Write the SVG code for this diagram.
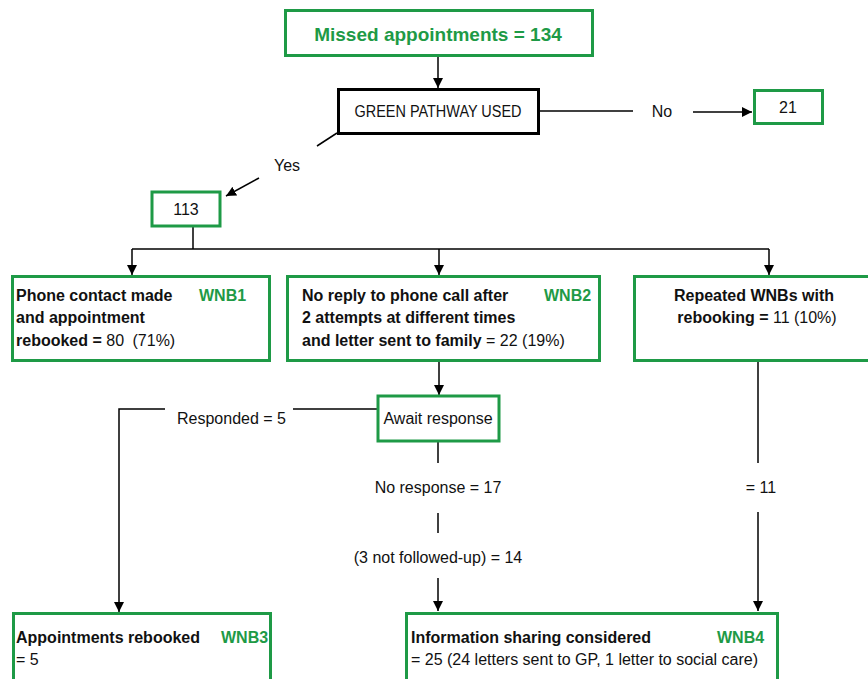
<svg xmlns="http://www.w3.org/2000/svg" width="868" height="679" viewBox="0 0 868 679">
<defs>
<marker id="ah" viewBox="0 0 10 10" refX="10" refY="5" markerWidth="10" markerHeight="10" orient="auto" markerUnits="userSpaceOnUse">
<path d="M0,0 L10,5 L0,10 Z" fill="#000"/>
</marker>
<style>
.gbox{fill:#fff;stroke:#1e9a46;stroke-width:3}
.kbox{fill:#fff;stroke:#000;stroke-width:3}
.t{font-family:"Liberation Sans",Arial,sans-serif;font-size:16px;fill:#111}
.b{font-weight:bold}
.g{fill:#1e9a46;font-weight:bold}
.c{text-anchor:middle}
.ln{fill:none;stroke:#000;stroke-width:1.5}
.ar{marker-end:url(#ah)}
</style>
</defs>
<rect width="868" height="679" fill="#fff"/>
<g id="connectors">
<line class="ln ar" x1="438" y1="56" x2="438" y2="88"/>
<line class="ln" x1="539" y1="111" x2="633" y2="111"/>
<line class="ln ar" x1="693" y1="112" x2="752" y2="112"/>
<line class="ln" x1="337" y1="133" x2="317" y2="146"/>
<line class="ln ar" x1="259" y1="178" x2="226" y2="196"/>
<line class="ln" x1="193" y1="227" x2="193" y2="249"/>
<line class="ln" x1="132" y1="249" x2="769" y2="249"/>
<line class="ln ar" x1="132" y1="249" x2="132" y2="275"/>
<line class="ln ar" x1="439" y1="249" x2="439" y2="275"/>
<line class="ln ar" x1="769" y1="249" x2="769" y2="275"/>
<line class="ln ar" x1="439" y1="361" x2="439" y2="395"/>
<line class="ln" x1="377" y1="409" x2="293" y2="409"/>
<polyline class="ln ar" points="165,409 119,409 119,612"/>
<line class="ln" x1="438" y1="442" x2="438" y2="463"/>
<line class="ln" x1="438" y1="513" x2="438" y2="533"/>
<line class="ln ar" x1="438" y1="578" x2="438" y2="611"/>
<line class="ln" x1="758" y1="361" x2="758" y2="463"/>
<line class="ln ar" x1="758" y1="512" x2="758" y2="611"/>
<text class="t c" x="662" y="117">No</text>
<text class="t c" x="287" y="171">Yes</text>
<text class="t" x="177" y="424">Responded = 5</text>
<text class="t c" x="438" y="493">No response = 17</text>
<text class="t c" x="438" y="563">(3 not followed-up) = 14</text>
<text class="t c" x="761" y="493">= 11</text>
</g>
<g id="missed">
<rect class="gbox" x="285.5" y="10.5" width="307" height="45"/>
<text class="t g c" x="438" y="41" style="font-size:19px">Missed appointments = 134</text>
</g>
<g id="green-pathway">
<rect class="kbox" x="338.5" y="89.5" width="200" height="44"/>
<text class="t c" x="438" y="117" textLength="167" lengthAdjust="spacingAndGlyphs">GREEN PATHWAY USED</text>
</g>
<g id="no21">
<rect class="gbox" x="754.5" y="90.5" width="68" height="33"/>
<text class="t c" x="788" y="113">21</text>
</g>
<g id="yes113">
<rect class="gbox" x="152" y="192" width="68" height="34"/>
<text class="t c" x="186" y="215">113</text>
</g>
<g id="wnb1">
<rect class="gbox" x="12.5" y="276.5" width="257" height="84"/>
<text class="t b" x="16" y="301">Phone contact made</text>
<text class="t g" x="199" y="301">WNB1</text>
<text class="t b" x="16" y="323">and appointment</text>
<text class="t" x="16" y="346"><tspan class="b">rebooked =</tspan> 80 <tspan dx="4">(71%)</tspan></text>
</g>
<g id="wnb2">
<rect class="gbox" x="287.5" y="276.5" width="312" height="84"/>
<text class="t b" x="302" y="301">No reply to phone call after</text>
<text class="t g" x="544" y="301">WNB2</text>
<text class="t b" x="302" y="323">2 attempts at different times</text>
<text class="t" x="302" y="346"><tspan class="b">and letter sent to family</tspan> = 22 (19%)</text>
</g>
<g id="repeated">
<rect class="gbox" x="634.5" y="276.5" width="250" height="84"/>
<text class="t b c" x="754" y="301">Repeated WNBs with</text>
<text class="t c" x="757" y="323"><tspan class="b">rebooking =</tspan> 11 (10%)</text>
</g>
<g id="await">
<rect class="gbox" x="378" y="396" width="121" height="45"/>
<text class="t c" x="438" y="424">Await response</text>
</g>
<g id="wnb3">
<rect class="gbox" x="13.5" y="613.5" width="257" height="80"/>
<text class="t b" x="16" y="643">Appointments rebooked</text>
<text class="t g" x="221" y="643">WNB3</text>
<text class="t" x="16" y="665">= 5</text>
</g>
<g id="wnb4">
<rect class="gbox" x="406.5" y="613.5" width="371" height="80"/>
<text class="t b" x="411" y="643">Information sharing considered</text>
<text class="t g" x="717" y="643">WNB4</text>
<text class="t" x="411" y="665">= 25 (24 letters sent to GP, 1 letter to social care)</text>
</g>
</svg>
